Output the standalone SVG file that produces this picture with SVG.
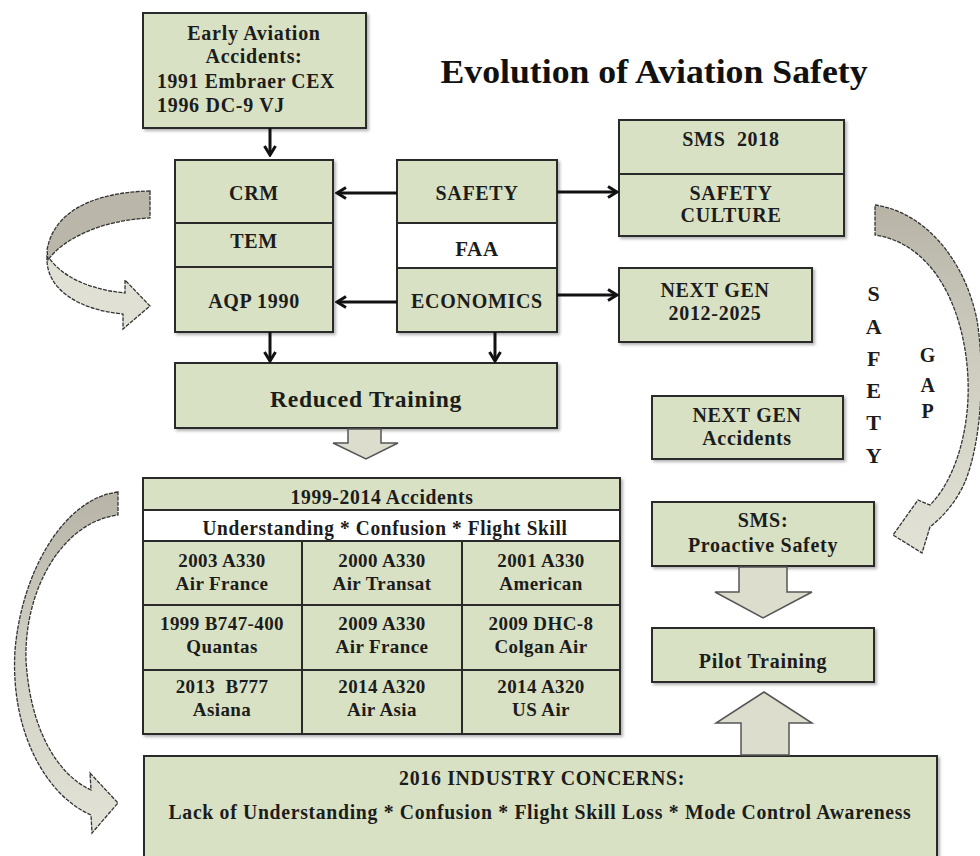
<svg xmlns="http://www.w3.org/2000/svg" width="980" height="856" viewBox="0 0 980 856">
<style>
.box{fill:#d8e1c4;stroke:#2a2a2a;stroke-width:2}
.wbox{fill:#ffffff;stroke:#2a2a2a;stroke-width:2}
.div{stroke:#2a2a2a;stroke-width:2;fill:none}
.t{font-family:"Liberation Serif","Times New Roman",serif;font-weight:bold;fill:#1c1c1c;text-anchor:middle;font-size:20px;letter-spacing:0.7px}
.tl{text-anchor:start}
.big{font-size:21px}
.title{font-size:34px;fill:#111;letter-spacing:0}
.cell{font-size:19px;letter-spacing:0.4px}
.lt{font-size:22px}
.pre{white-space:pre}
.conn{stroke:#111;stroke-width:3;fill:none}
.blk{fill:#dcddcd;stroke:#555;stroke-width:1.5}
.crv{stroke:#333;stroke-width:1.3;stroke-dasharray:4 1.2}
</style>
<defs>
<marker id="ah" viewBox="0 0 14 14" refX="12" refY="7" markerWidth="14" markerHeight="14" markerUnits="userSpaceOnUse" orient="auto">
<path d="M3,1.5 L12,7 L3,12.5" fill="none" stroke="#111" stroke-width="3"/>
</marker>
<filter id="sh" x="-5%" y="-5%" width="115%" height="120%">
<feDropShadow dx="2" dy="2" stdDeviation="1.5" flood-color="#000" flood-opacity="0.3"/>
</filter>
<linearGradient id="gR" x1="0" y1="205" x2="0" y2="553" gradientUnits="userSpaceOnUse">
<stop offset="0" stop-color="#b7b4a7"/><stop offset="0.35" stop-color="#c9c8bb"/><stop offset="1" stop-color="#e2e3d6"/>
</linearGradient>
<linearGradient id="gB" x1="0" y1="492" x2="0" y2="833" gradientUnits="userSpaceOnUse">
<stop offset="0" stop-color="#b7b4a7"/><stop offset="0.45" stop-color="#cfcec2"/><stop offset="1" stop-color="#e2e3d6"/>
</linearGradient>
</defs>
<rect width="980" height="856" fill="#ffffff"/>

<text class="t title" x="654" y="83" textLength="427" lengthAdjust="spacingAndGlyphs">Evolution of Aviation Safety</text>

<g id="curved-arrows">
<path class="crv" fill="#e0e1d4" d="M47,256 C45,290 80,310 123,314 L123,329 L150,306 L125,280 L125,293 C95,290 65,280 49,258 Z"/>
<path class="crv" fill="#bab7aa" d="M150,191 C105,192 55,205 47,250 L48,260 C62,240 100,220 150,218 Z"/>
<path class="crv" fill="url(#gR)" d="M875,205 C925,212 965,260 977,320 C985,370 982,440 965,482 C957,500 945,515 930,527 L922,553 L893,535 L918,500 L930,505 C955,480 970,430 968,380 C966,320 940,245 875,235 Z"/>
<path class="crv" fill="url(#gB)" d="M118,492 C65,498 22,570 15,650 C10,730 45,795 91,815 L92,833 L118,803 L90,773 L91,790 C58,775 30,730 26,660 C24,590 62,522 118,515 Z"/>
</g>

<g id="early">
<rect class="box" x="143" y="13" width="223" height="115" filter="url(#sh)"/>
<text class="t" x="254" y="40">Early Aviation</text>
<text class="t" x="254" y="63">Accidents:</text>
<text class="t tl" x="157" y="88" textLength="178" lengthAdjust="spacingAndGlyphs">1991 Embraer CEX</text>
<text class="t tl" x="157" y="112">1996 DC-9 VJ</text>
</g>

<g id="training-stack">
<rect class="box" x="175" y="160" width="158" height="172" filter="url(#sh)"/>
<line class="div" x1="175" y1="223" x2="333" y2="223"/>
<line class="div" x1="175" y1="267" x2="333" y2="267"/>
<text class="t" x="254" y="200">CRM</text>
<text class="t" x="254" y="248">TEM</text>
<text class="t" x="254" y="308">AQP 1990</text>
</g>

<g id="faa-stack">
<rect class="box" x="397" y="160" width="160" height="172" filter="url(#sh)"/>
<rect class="wbox" x="397" y="223" width="160" height="45"/>
<text class="t" x="477" y="200">SAFETY</text>
<text class="t big" x="477" y="256">FAA</text>
<text class="t" x="477" y="308">ECONOMICS</text>
</g>

<g id="sms2018">
<rect class="box" x="619" y="120" width="225" height="116" filter="url(#sh)"/>
<line class="div" x1="619" y1="174" x2="844" y2="174"/>
<text class="t pre" x="731" y="146">SMS  2018</text>
<text class="t" x="731" y="200">SAFETY</text>
<text class="t" x="731" y="222">CULTURE</text>
</g>

<g id="nextgen">
<rect class="box" x="619" y="268" width="193" height="74" filter="url(#sh)"/>
<text class="t" x="715" y="297">NEXT GEN</text>
<text class="t" x="715" y="320">2012-2025</text>
</g>

<g id="reduced">
<rect class="box" x="175" y="363" width="382" height="65" filter="url(#sh)"/>
<text class="t" x="366" y="407" style="font-size:23px" textLength="192" lengthAdjust="spacingAndGlyphs">Reduced Training</text>
</g>

<g id="nextgen-acc">
<rect class="box" x="652" y="396" width="191" height="63" filter="url(#sh)"/>
<text class="t" x="747" y="422">NEXT GEN</text>
<text class="t" x="747" y="445">Accidents</text>
</g>

<g id="safety-gap">
<text class="t lt" x="874" y="301">S</text>
<text class="t lt" x="874" y="334">A</text>
<text class="t lt" x="874" y="366">F</text>
<text class="t lt" x="874" y="398">E</text>
<text class="t lt" x="874" y="430">T</text>
<text class="t lt" x="874" y="463">Y</text>
<text class="t" x="928" y="362">G</text>
<text class="t" x="928" y="392">A</text>
<text class="t" x="928" y="418">P</text>
</g>

<g id="accidents-table">
<rect class="box" x="143" y="478" width="477" height="256" filter="url(#sh)"/>
<rect class="wbox" x="143" y="510" width="477" height="31"/>
<line class="div" x1="143" y1="605" x2="620" y2="605"/>
<line class="div" x1="143" y1="670" x2="620" y2="670"/>
<line class="div" x1="302" y1="541" x2="302" y2="734"/>
<line class="div" x1="462" y1="541" x2="462" y2="734"/>
<text class="t big" x="382" y="504" textLength="183" lengthAdjust="spacingAndGlyphs">1999-2014 Accidents</text>
<text class="t big" x="385" y="535" textLength="365" lengthAdjust="spacingAndGlyphs">Understanding * Confusion * Flight Skill</text>
<text class="t cell" x="222" y="567">2003 A330</text>
<text class="t cell" x="222" y="590">Air France</text>
<text class="t cell" x="382" y="567">2000 A330</text>
<text class="t cell" x="382" y="590">Air Transat</text>
<text class="t cell" x="541" y="567">2001 A330</text>
<text class="t cell" x="541" y="590">American</text>
<text class="t cell" x="222" y="630">1999 B747-400</text>
<text class="t cell" x="222" y="653">Quantas</text>
<text class="t cell" x="382" y="630">2009 A330</text>
<text class="t cell" x="382" y="653">Air France</text>
<text class="t cell" x="541" y="630">2009 DHC-8</text>
<text class="t cell" x="541" y="653">Colgan Air</text>
<text class="t cell pre" x="222" y="693">2013  B777</text>
<text class="t cell" x="222" y="716">Asiana</text>
<text class="t cell" x="382" y="693">2014 A320</text>
<text class="t cell" x="382" y="716">Air Asia</text>
<text class="t cell" x="541" y="693">2014 A320</text>
<text class="t cell" x="541" y="716">US Air</text>
</g>

<g id="sms-proactive">
<rect class="box" x="652" y="502" width="222" height="64" filter="url(#sh)"/>
<text class="t" x="763" y="527">SMS:</text>
<text class="t" x="763" y="552">Proactive Safety</text>
</g>

<g id="pilot-training">
<rect class="box" x="652" y="628" width="222" height="54" filter="url(#sh)"/>
<text class="t" x="763" y="668">Pilot Training</text>
</g>

<g id="industry">
<rect class="box" x="144" y="756" width="793" height="110" filter="url(#sh)"/>
<text class="t" x="542" y="785" textLength="286" lengthAdjust="spacingAndGlyphs">2016 INDUSTRY CONCERNS:</text>
<text class="t" x="540" y="819" textLength="743" lengthAdjust="spacingAndGlyphs">Lack of Understanding * Confusion * Flight Skill Loss * Mode Control Awareness</text>
</g>

<g id="connectors">
<line class="conn" x1="270" y1="128" x2="270" y2="155" marker-end="url(#ah)"/>
<line class="conn" x1="397" y1="193" x2="337" y2="193" marker-end="url(#ah)"/>
<line class="conn" x1="397" y1="302" x2="337" y2="302" marker-end="url(#ah)"/>
<line class="conn" x1="557" y1="192" x2="617" y2="192" marker-end="url(#ah)"/>
<line class="conn" x1="557" y1="295" x2="617" y2="295" marker-end="url(#ah)"/>
<line class="conn" x1="270" y1="332" x2="270" y2="361" marker-end="url(#ah)"/>
<line class="conn" x1="495" y1="332" x2="495" y2="361" marker-end="url(#ah)"/>
<path class="blk" d="M348,429 L381,429 L381,443 L398,443 L366,459 L333,443 L348,443 Z"/>
<path class="blk" d="M739,567 L787,567 L787,592 L812,592 L763,618 L715,592 L739,592 Z"/>
<path class="blk" d="M741,755 L741,723 L716,723 L764,692 L812,723 L789,723 L789,755 Z"/>
</g>
</svg>
